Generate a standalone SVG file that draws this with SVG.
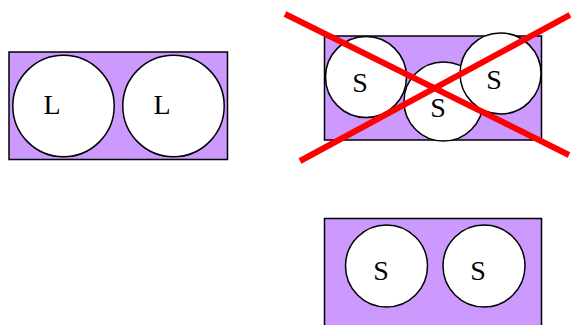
<svg xmlns="http://www.w3.org/2000/svg" width="571" height="325" viewBox="0 0 571 325">
<style>
.box{fill:#cc99ff;stroke:#000;stroke-width:1.5}
.c{fill:#fff;stroke:#000;stroke-width:1.5}
.t{font-family:"Liberation Serif",serif;font-size:28px;text-anchor:middle;fill:#000}
.x{stroke:#ff0000;stroke-width:6;fill:none}
</style>
<rect width="571" height="325" fill="#fff"/>
<g id="large">
<rect class="box" x="9" y="52" width="218.5" height="107.5"/>
<circle class="c" cx="63.5" cy="106" r="50.7"/>
<text class="t" x="52" y="114">L</text>
<circle class="c" cx="173.5" cy="106" r="50.7"/>
<text class="t" x="162" y="114">L</text>
</g>
<g id="bad">
<rect class="box" x="324.5" y="36" width="217" height="104"/>
<circle class="c" cx="366" cy="77" r="40.5"/>
<text class="t" x="360" y="92">S</text>
<circle class="c" cx="443.5" cy="101.5" r="39.5"/>
<text class="t" x="438" y="117">S</text>
<circle class="c" cx="500.5" cy="73.5" r="40.5"/>
<text class="t" x="494" y="89">S</text>
</g>
<g id="cross">
<line class="x" x1="285" y1="14" x2="569" y2="155"/>
<line class="x" x1="300" y1="161" x2="570" y2="15"/>
</g>
<g id="good">
<rect class="box" x="324.5" y="218.5" width="217" height="110"/>
<circle class="c" cx="386.5" cy="266" r="41"/>
<text class="t" x="381" y="280">S</text>
<circle class="c" cx="484" cy="266" r="41"/>
<text class="t" x="478" y="280">S</text>
</g>
</svg>
